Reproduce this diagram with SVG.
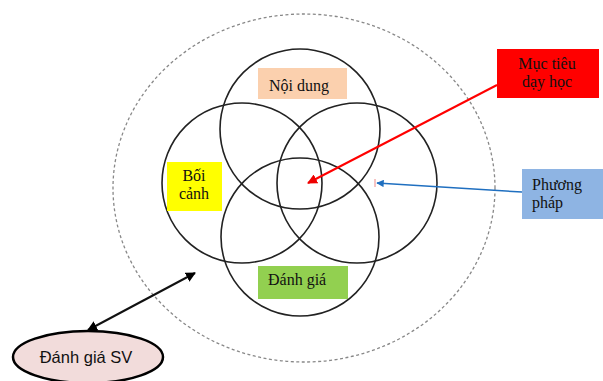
<svg xmlns="http://www.w3.org/2000/svg" width="603" height="381" viewBox="0 0 603 381">
<style>
.c{fill:none;stroke:#222;stroke-width:1.6}
.t{font-family:"Liberation Serif","Times New Roman",serif;font-size:16px;fill:#111}
.s{font-family:"Liberation Sans",Arial,sans-serif;font-size:16.5px;fill:#111}
</style>
<defs>
<marker id="ar" viewBox="0 0 10 10" refX="9" refY="5" markerWidth="5" markerHeight="5" orient="auto-start-reverse"><path d="M0,0L10,5L0,10z" fill="#000"/></marker>
<marker id="ar2" viewBox="0 0 10 10" refX="9" refY="5" markerWidth="5" markerHeight="5" orient="auto"><path d="M0,0L10,5L0,10z" fill="#e00"/></marker>
<marker id="ar3" viewBox="0 0 10 10" refX="9" refY="5" markerWidth="5" markerHeight="5" orient="auto"><path d="M0,0L10,5L0,10z" fill="#1f6fc0"/></marker>
</defs>
<rect width="603" height="381" fill="#fff"/>
<g id="outer"><ellipse cx="304" cy="188" rx="191" ry="174" fill="none" stroke="#888" stroke-width="1.3" stroke-dasharray="3 2.5"/></g>
<g id="circles">
<circle class="c" cx="300" cy="129" r="80"/>
<circle class="c" cx="242" cy="183" r="80"/>
<circle class="c" cx="357" cy="183" r="80"/>
<circle class="c" cx="300" cy="237" r="79"/>
</g>
<g id="noi-dung"><rect x="258" y="68" width="89" height="31" fill="#fbd0ae"/><text class="t" x="299" y="91" text-anchor="middle">Nội dung</text></g>
<g id="boi-canh"><rect x="167" y="162" width="55" height="49" fill="#ffff00"/><text class="t" x="194" y="181" text-anchor="middle">Bối</text><text class="t" x="194" y="199" text-anchor="middle">cảnh</text></g>
<g id="danh-gia"><rect x="258" y="266" width="90" height="33" fill="#92d050"/><text class="t" x="268" y="285">Đánh giá</text></g>
<g id="muc-tieu"><rect x="497" y="49" width="102" height="49" fill="#ff0000"/><text class="t" x="547" y="69" text-anchor="middle">Mục tiêu</text><text class="t" x="547" y="87" text-anchor="middle">dạy học</text></g>
<g id="phuong-phap"><rect x="522" y="169" width="81" height="50" fill="#8eb4e3"/><text class="t" x="532" y="190">Phương</text><text class="t" x="532" y="208">pháp</text></g>
<g id="danh-gia-sv"><ellipse cx="88" cy="357" rx="75" ry="26" fill="#f2dcdb" stroke="#000" stroke-width="2.5"/><text class="s" x="86" y="363" text-anchor="middle">Đánh giá SV</text></g>
<g id="connectors">
<line x1="497" y1="85" x2="308" y2="183" stroke="#f00" stroke-width="2" marker-end="url(#ar2)"/>
<line x1="522" y1="192" x2="377" y2="183" stroke="#1f6fc0" stroke-width="1.5" marker-end="url(#ar3)"/>
<line x1="375" y1="179" x2="375" y2="187" stroke="#e88" stroke-width="1"/>
<line x1="88" y1="330" x2="195" y2="273" stroke="#111" stroke-width="2" marker-start="url(#ar)" marker-end="url(#ar)"/>
</g>
</svg>
